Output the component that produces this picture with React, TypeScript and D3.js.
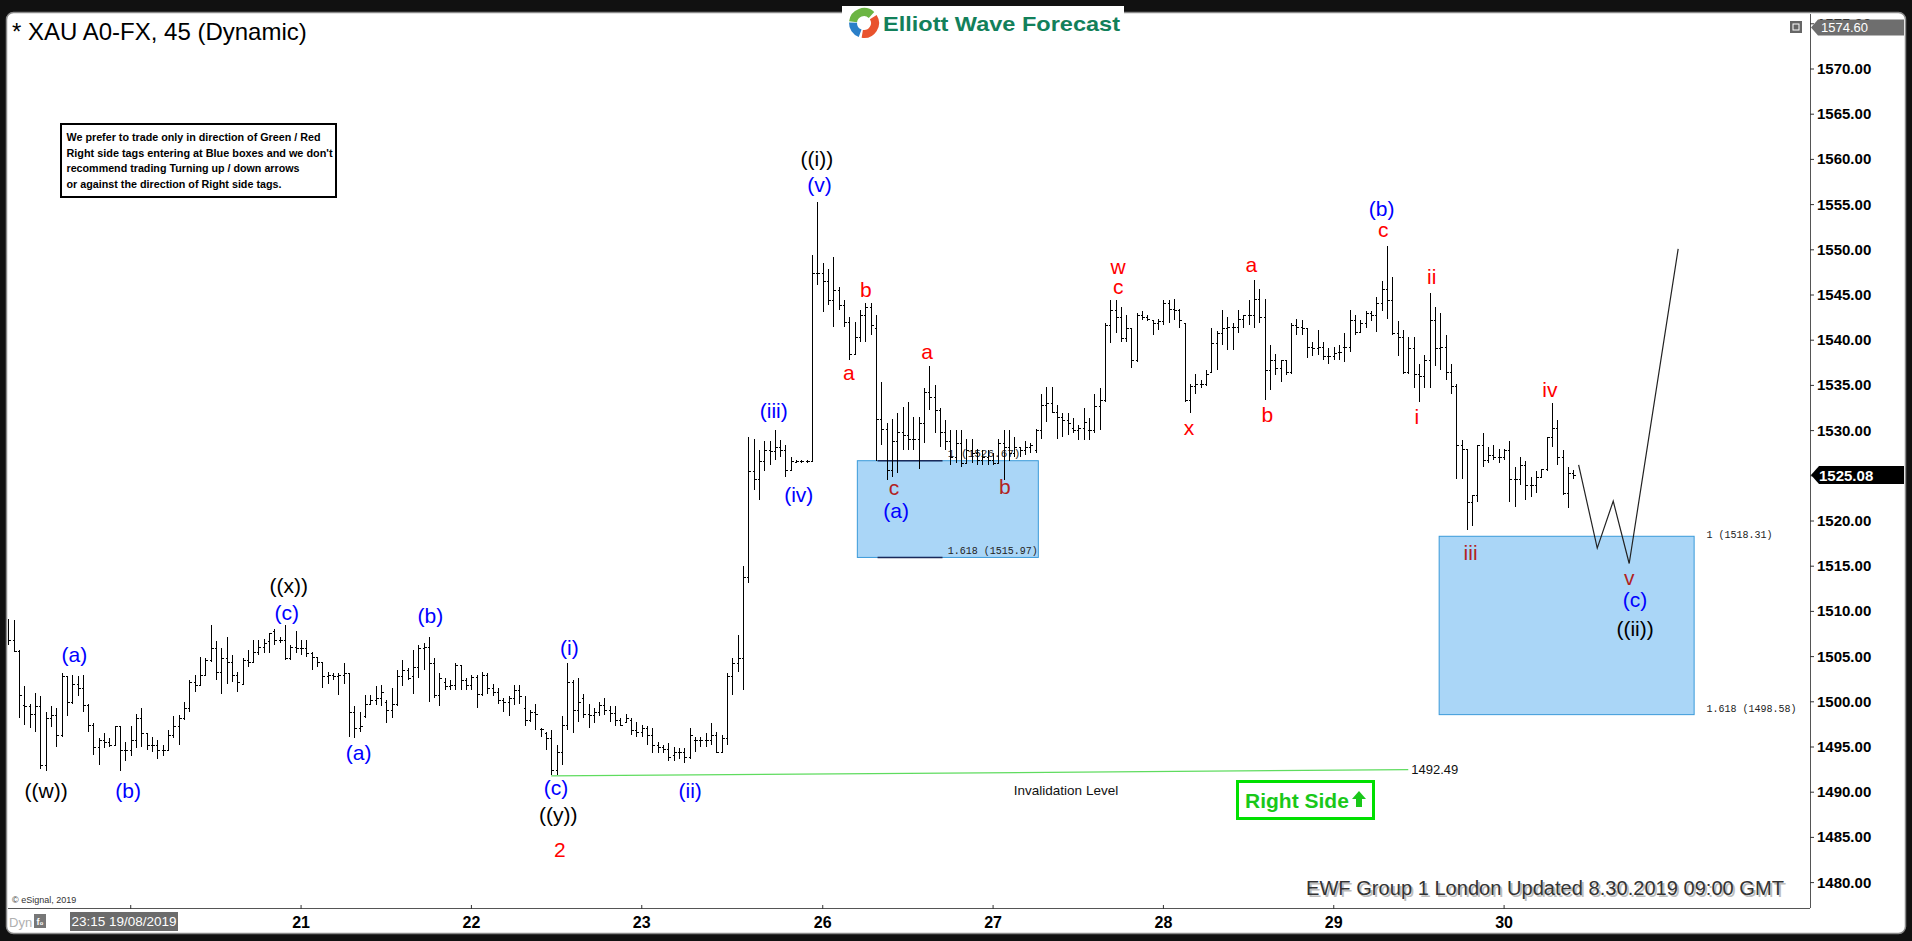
import React from "react";
import * as d3 from "d3";

const W = 1912;
const H = 941;

// OHLC bars [open, high, low, close], 45-minute bars grouped by trading day
const bars19 = [
  [1506.8,1509.2,1506.3,1506.8],[1506.8,1509.0,1505.5,1505.6],[1505.6,1505.7,1498.2,1500.8],[1499.6,1501.7,1497.4,1499.5],
  [1499.5,1499.8,1497.1,1498.7],[1498.7,1501.0,1496.7,1499.5],[1499.5,1500.6,1492.6,1493.0],[1493.0,1498.9,1492.4,1498.2],
  [1498.2,1499.5,1497.2,1498.5],[1498.5,1499.3,1495.0,1496.3],[1496.3,1503.2,1496.1,1502.8],[1502.8,1502.8,1498.4,1500.0],
  [1500.0,1503.0,1499.8,1502.0],[1502.0,1502.8,1500.6,1501.5],[1501.5,1503.0,1498.9,1499.6],[1499.6,1499.8,1496.7,1497.4],
  [1497.4,1497.6,1494.1,1495.0],[1495.0,1496.0,1493.0,1495.8],[1495.8,1496.5,1494.9,1495.6],[1495.6,1496.0,1495.0,1495.2],
  [1495.2,1497.3,1495.2,1497.3],[1497.3,1497.3,1492.3,1494.7],[1494.7,1495.6,1493.4,1494.7],
];
const bars20 = [
  [1494.7,1497.3,1494.0,1495.8],[1495.8,1498.7,1494.9,1498.2],[1498.2,1499.3,1495.0,1496.5],[1496.5,1496.5,1494.7,1495.2],
  [1495.2,1496.1,1494.5,1495.2],[1495.2,1495.8,1493.7,1494.7],[1494.7,1495.2,1494.0,1494.7],[1494.7,1496.9,1494.7,1496.3],
  [1496.3,1498.4,1496.0,1497.3],[1497.3,1498.5,1495.2,1498.2],[1498.2,1500.0,1498.0,1499.3],[1499.3,1502.4,1498.9,1502.2],
  [1502.2,1503.0,1501.1,1501.9],[1501.9,1505.0,1501.7,1503.0],[1503.0,1504.8,1502.8,1504.6],[1504.6,1508.5,1504.4,1505.9],
  [1505.9,1506.7,1502.4,1503.3],[1503.3,1505.9,1500.9,1504.8],[1504.8,1507.2,1502.0,1504.4],[1504.4,1505.2,1502.2,1503.0],
  [1503.0,1503.3,1501.1,1502.2],[1502.0,1504.8,1501.9,1504.6],[1504.6,1505.7,1503.9,1504.4],[1504.4,1506.8,1504.3,1505.5],
  [1505.5,1506.8,1505.2,1506.1],[1506.1,1507.0,1505.4,1506.5],[1506.7,1507.6,1505.4,1507.6],[1507.8,1508.0,1506.3,1506.8],
  [1506.8,1507.2,1506.5,1506.8],[1506.8,1508.5,1504.6,1504.8],[1504.8,1506.3,1504.6,1506.1],[1506.1,1507.8,1505.4,1506.0],
];
const bars21 = [
  [1506.0,1506.8,1505.2,1505.9],[1505.9,1506.8,1505.0,1505.4],[1505.4,1505.5,1503.5,1505.0],[1505.0,1505.0,1503.9,1504.4],
  [1504.4,1504.4,1501.5,1502.8],[1502.8,1503.3,1502.0,1503.0],[1503.0,1503.2,1502.4,1502.8],[1502.8,1503.2,1500.8,1503.0],
  [1503.0,1504.3,1502.0,1503.2],[1503.2,1503.2,1496.1,1498.9],[1498.9,1499.5,1496.0,1497.1],[1497.1,1498.9,1496.7,1497.3],
  [1498.4,1500.8,1498.2,1499.8],[1499.8,1500.8,1499.6,1500.2],[1500.2,1501.7,1499.6,1500.4],[1500.4,1501.9,1499.5,1501.1],
  [1500.0,1500.2,1497.6,1499.1],[1499.1,1501.5,1498.2,1499.8],[1499.8,1503.5,1499.5,1502.8],[1502.8,1504.6,1501.7,1503.5],
  [1503.5,1503.7,1502.4,1502.6],[1502.8,1505.7,1500.9,1503.9],[1503.9,1506.3,1502.6,1505.9],[1505.9,1506.5,1503.5,1506.1],
  [1506.1,1507.2,1500.0,1504.3],[1504.3,1504.8,1500.4,1500.8],[1500.8,1503.2,1499.5,1502.6],[1502.2,1502.6,1501.3,1501.7],
  [1501.7,1502.4,1501.3,1501.9],[1501.9,1504.3,1501.3,1504.1],[1504.1,1504.1,1501.3,1502.4],[1502.4,1502.6,1501.3,1501.9],
];
const bars22 = [
  [1501.9,1503.0,1501.3,1502.7],[1502.7,1503.0,1499.3,1500.9],[1500.9,1503.3,1500.6,1503.0],[1503.0,1503.2,1500.9,1501.5],
  [1501.5,1502.0,1500.6,1501.1],[1501.1,1501.5,1499.8,1500.2],[1500.2,1500.4,1498.9,1500.0],[1500.0,1500.6,1498.4,1500.4],
  [1500.4,1501.9,1499.6,1501.3],[1501.3,1501.9,1499.8,1500.6],[1499.3,1500.6,1497.3,1498.0],[1498.0,1499.1,1497.8,1498.9],
  [1498.9,1499.8,1496.9,1498.7],[1497.0,1497.1,1496.1,1497.0],[1496.5,1496.7,1494.7,1496.0],[1496.0,1496.9,1491.9,1492.5],
  [1492.5,1495.2,1491.9,1494.5],[1494.5,1498.4,1493.0,1497.4],[1497.4,1504.3,1496.9,1502.2],[1502.2,1502.4,1496.5,1499.1],
  [1499.1,1502.6,1497.8,1500.0],[1500.4,1500.9,1498.2,1498.7],[1498.7,1499.8,1497.1,1498.5],[1498.5,1499.3,1497.6,1498.9],
  [1498.9,1500.0,1498.4,1499.6],[1499.6,1500.4,1498.5,1499.1],[1499.1,1499.5,1497.8,1498.8],[1498.8,1499.5,1497.3,1498.0],
  [1498.0,1498.2,1497.3,1497.4],[1497.8,1498.7,1497.6,1498.2],[1498.0,1498.2,1496.3,1496.9],[1496.9,1497.8,1496.1,1496.7],
];
const bars23 = [
  [1496.7,1497.4,1496.1,1497.1],[1497.1,1497.3,1495.2,1496.3],[1496.3,1497.1,1494.3,1495.2],[1495.2,1495.6,1494.3,1495.0],
  [1495.0,1495.2,1494.3,1494.8],[1494.8,1495.4,1493.4,1493.9],[1494.1,1495.0,1493.4,1494.5],[1494.5,1494.9,1493.7,1494.4],
  [1494.4,1494.9,1493.2,1493.9],[1493.9,1497.1,1493.7,1496.3],[1495.8,1496.1,1494.5,1495.8],[1495.8,1496.1,1495.0,1495.8],
  [1495.8,1496.5,1495.0,1495.8],[1495.8,1497.6,1495.2,1496.3],[1496.3,1496.7,1494.3,1494.5],[1494.5,1496.3,1494.3,1496.0],
  [1496.0,1503.2,1495.2,1502.8],[1502.8,1504.8,1500.8,1504.3],[1504.3,1507.4,1503.3,1504.8],[1504.8,1515.0,1501.3,1513.8],
  [1513.8,1529.3,1513.1,1525.5],[1525.5,1529.1,1523.4,1524.7],[1524.7,1527.9,1522.3,1526.6],[1526.6,1528.8,1525.5,1527.9],
  [1527.9,1528.8,1526.2,1527.7],[1527.7,1530.1,1526.7,1528.2],[1528.2,1529.0,1527.1,1527.9],[1527.9,1528.4,1524.9,1525.6],
  [1525.6,1527.1,1525.5,1526.6],[1526.5,1526.7,1526.4,1526.6],[1526.6,1526.7,1526.4,1526.6],[1526.6,1526.7,1526.4,1526.6],
  [1526.6,1549.4,1526.6,1547.4],[1547.4,1555.3,1546.1,1547.4],
];
const bars26 = [
  [1547.4,1548.5,1543.1,1546.6],[1546.6,1547.9,1543.9,1544.4],[1544.4,1549.2,1541.5,1545.5],[1545.5,1545.9,1543.3,1543.9],
  [1543.9,1544.4,1541.5,1542.0],[1542.0,1542.6,1537.8,1538.5],[1538.5,1542.0,1538.5,1540.4],[1540.4,1543.3,1539.8,1542.8],
  [1542.8,1544.1,1539.8,1543.7],[1543.7,1544.1,1540.6,1541.7],[1541.3,1542.8,1526.6,1531.3],[1531.3,1535.4,1528.4,1530.2],
  [1530.2,1530.8,1524.5,1525.6],[1525.6,1531.3,1524.9,1528.8],[1528.8,1531.9,1525.3,1529.9],[1529.9,1532.6,1527.8,1529.5],
  [1529.5,1533.2,1527.8,1529.1],[1529.1,1531.5,1527.8,1529.1],[1529.1,1531.5,1525.8,1530.8],[1530.8,1534.7,1528.6,1534.3],
  [1534.3,1537.1,1532.3,1533.7],[1533.7,1535.0,1529.7,1532.3],[1532.3,1532.5,1528.2,1529.9],[1529.9,1531.2,1527.8,1528.8],
  [1528.8,1530.1,1526.2,1527.1],[1527.1,1530.1,1526.4,1528.6],[1528.6,1530.1,1526.0,1526.4],[1526.4,1529.1,1526.4,1527.8],
  [1527.8,1529.1,1526.4,1527.5],[1527.5,1528.0,1526.2,1526.7],[1526.7,1527.8,1526.2,1527.1],[1527.1,1527.8,1526.2,1526.7],
];
const bars27 = [
  [1526.7,1527.5,1526.2,1526.4],[1526.4,1529.1,1526.4,1528.6],[1528.6,1530.1,1524.5,1528.2],[1528.2,1530.1,1526.6,1527.5],
  [1527.5,1529.3,1527.1,1528.2],[1528.2,1528.2,1527.1,1527.8],[1527.8,1528.9,1527.3,1528.2],[1528.2,1528.6,1527.5,1528.4],
  [1527.8,1530.2,1527.5,1530.1],[1530.1,1534.1,1529.1,1532.8],[1532.8,1534.8,1531.0,1533.0],[1533.0,1534.8,1531.9,1532.1],
  [1532.1,1532.8,1529.1,1531.5],[1531.5,1531.9,1529.3,1531.2],[1531.2,1531.9,1529.5,1530.8],[1530.3,1531.4,1529.7,1530.1],
  [1530.1,1530.6,1529.0,1530.3],[1530.3,1532.5,1529.0,1531.0],[1530.1,1531.4,1529.0,1530.1],[1530.1,1534.1,1529.7,1532.7],
  [1532.7,1534.7,1530.1,1533.4],[1533.4,1541.9,1533.2,1541.7],[1541.7,1544.5,1539.7,1543.3],[1543.3,1544.5,1540.8,1542.6],
  [1542.6,1543.7,1539.8,1540.2],[1540.2,1542.8,1539.8,1541.3],[1541.3,1541.3,1536.9,1537.8],[1537.8,1543.0,1537.6,1542.8],
  [1542.8,1543.2,1542.2,1542.6],[1542.6,1542.8,1542.1,1542.4],[1542.2,1542.2,1540.6,1541.9],[1541.9,1542.4,1541.1,1542.1],
];
const bars28 = [
  [1542.1,1544.5,1541.7,1544.1],[1544.1,1544.5,1541.9,1543.5],[1543.5,1544.6,1542.2,1543.3],[1543.3,1543.5,1541.3,1542.2],
  [1541.9,1541.9,1533.2,1533.4],[1533.4,1535.2,1532.0,1534.9],[1534.9,1536.3,1534.1,1535.2],[1535.2,1535.6,1534.7,1535.2],
  [1535.2,1536.7,1534.9,1536.3],[1536.5,1541.3,1536.5,1539.7],[1539.7,1541.0,1536.7,1540.8],[1540.8,1543.3,1539.5,1541.3],
  [1541.3,1542.6,1538.9,1541.5],[1541.5,1541.9,1538.9,1541.5],[1541.5,1543.3,1540.8,1542.4],[1542.4,1542.8,1541.3,1542.8],
  [1542.8,1544.5,1541.7,1542.8],[1542.8,1546.7,1541.3,1544.6],[1544.6,1545.7,1541.9,1542.6],[1542.6,1544.6,1533.4,1536.7],
  [1536.7,1539.5,1534.5,1537.8],[1537.8,1538.5,1536.2,1536.9],[1536.9,1537.8,1535.4,1537.8],[1537.8,1537.8,1536.2,1536.5],
  [1536.5,1541.9,1536.3,1541.7],[1541.7,1542.4,1540.6,1541.5],[1541.5,1542.2,1540.6,1541.3],[1541.3,1541.3,1538.0,1539.3],
  [1539.3,1539.8,1538.2,1539.1],[1539.1,1541.1,1538.4,1539.3],[1539.3,1539.8,1537.8,1538.2],[1538.2,1539.1,1537.4,1538.2],
];
const bars29 = [
  [1538.2,1539.3,1537.8,1538.6],[1538.7,1539.5,1537.8,1538.7],[1539.3,1540.8,1537.6,1539.3],[1539.3,1543.3,1538.7,1542.2],
  [1542.2,1542.8,1540.6,1540.9],[1540.9,1542.2,1540.8,1541.9],[1541.9,1543.2,1541.3,1543.0],[1543.0,1543.2,1542.1,1542.8],
  [1542.8,1544.8,1540.9,1544.1],[1544.1,1546.5,1543.2,1545.7],[1545.7,1550.4,1542.4,1544.5],[1544.5,1547.0,1540.6,1540.8],
  [1540.8,1542.1,1538.2,1540.4],[1540.4,1541.1,1536.3,1536.5],[1536.5,1540.4,1536.3,1539.1],[1539.1,1540.4,1534.7,1536.3],
  [1536.3,1537.4,1533.2,1536.0],[1536.0,1538.4,1534.7,1537.8],[1537.8,1545.2,1534.7,1542.2],[1542.2,1543.7,1537.1,1539.1],
  [1539.1,1543.0,1536.7,1539.3],[1539.3,1540.6,1535.6,1536.5],[1536.5,1537.4,1534.1,1534.9],[1534.9,1535.1,1524.7,1528.4],
  [1528.4,1529.0,1524.7,1528.0],[1528.0,1528.0,1519.0,1522.1],[1522.1,1522.9,1519.4,1522.9],[1522.9,1528.4,1522.1,1528.4],
  [1528.4,1529.7,1526.0,1526.8],[1526.8,1528.2,1526.4,1527.3],[1527.3,1528.4,1526.8,1527.1],[1527.1,1528.0,1526.4,1527.1],
];
const bars30 = [
  [1527.1,1528.0,1526.8,1527.9],[1527.9,1528.8,1522.1,1524.7],[1524.7,1526.0,1521.6,1524.7],[1524.7,1527.1,1524.0,1526.2],
  [1526.2,1526.6,1522.3,1524.0],[1524.0,1524.9,1522.7,1524.0],[1524.0,1525.5,1523.1,1524.9],[1524.9,1525.8,1524.9,1525.7],
  [1525.7,1529.3,1525.5,1529.3],[1529.3,1533.0,1528.2,1530.3],[1530.3,1531.2,1526.2,1527.1],[1527.1,1527.9,1522.9,1523.1],
  [1523.1,1526.0,1521.4,1525.3],[1525.3,1525.6,1524.7,1525.08],
];

// x-axis day ticks: label and bar index at which the day starts ("" = label hidden under the cursor-time box)
const dayLabels = ["", "21", "22", "23", "26", "27", "28", "29", "30"];
const dayIndex = [23, 55, 87, 119, 153, 185, 217, 249, 281];

// price axis ticks
const priceTicks = [1480, 1485, 1490, 1495, 1500, 1505, 1510, 1515, 1520, 1525, 1530, 1535, 1540, 1545, 1550, 1555, 1560, 1565, 1570, 1575];
const lastPrice = 1525.08;
const topPrice = 1574.6;

// Elliott wave labels: text, colour key, bar index, price
const waveText = ["((w))","((x))","((y))","((i))","((ii))",
  "(a)","(b)","(c)","(a)","(b)","(c)","(i)","(ii)","(iii)","(iv)","(v)","(a)","(b)","(c)",
  "2","b","a","a","c","b","w","c","x","a","b","c","ii","i","iii","iv","v"];
const waveColor = ["k","k","k","k","k",
  "b","b","b","b","b","b","b","b","b","b","b","b","b","b",
  "r","r","r","r","m","m","r","r","r","r","r","r","r","r","m","r","m"];
const waveIndex = [7.1,52.7,103.3,151.9,305.6,
  12.4,22.5,52.3,65.8,79.3,102.9,105.4,128.1,143.8,148.5,152.4,166.8,258.0,305.6,
  103.6,161.1,157.9,172.6,166.4,187.2,208.5,208.5,221.8,233.5,236.5,258.3,267.4,264.6,274.7,289.6,304.5];
const wavePrice = [1490.2,1512.9,1487.5,1560.1,1508.1,
  1505.2,1490.2,1509.9,1494.4,1509.5,1490.5,1506.0,1490.2,1532.2,1522.9,1557.2,1521.2,1554.6,1511.3,
  1483.7,1545.6,1536.4,1538.8,1523.7,1523.8,1548.1,1545.9,1530.3,1548.4,1531.8,1552.2,1547.0,1531.6,1516.5,1534.5,1513.8];

// blue target boxes: [startIndex, endIndex, top price, bottom price]
const boxStart = [159.5, 268.8];
const boxEnd = [193.5, 316.7];
const boxTop = [1526.67, 1518.31];
const boxBottom = [1515.97, 1498.58];

// projected path
const projIndex = [295, 298.5, 301.5, 304.5, 313.7];
const projPrice = [1526.2, 1517.0, 1522.2, 1515.3, 1550.1];

// invalidation line
const invIndex = [102, 263];
const invPrice = [1491.8, 1492.49];

const COLORS: Record<string, string> = { k: "#000000", b: "#0000ff", r: "#ff0000", m: "#b22222" };
const FONT = "Liberation Sans, Arial, Helvetica, sans-serif";

export default function App() {
  const bars = [...bars19, ...bars20, ...bars21, ...bars22, ...bars23, ...bars26, ...bars27, ...bars28, ...bars29, ...bars30];
  const x = d3.scaleLinear().domain([0, bars.length - 1]).range([8.3, 1573.3]);
  const y = d3.scaleLinear().domain([1480, 1570]).range([882.6, 69]);
  const plotR = 1810;
  const plotB = 908;

  const projLine = d3.line<number>().x((_, i) => x(projIndex[i])).y((d) => y(d))(projPrice) || "";

  const arc = d3.arc();
  const logoArcs = [
    { s: -1.45, e: 0.75, c: "#6cb543" },
    { s: 1.0, e: 3.3, c: "#e9532e" },
    { s: 3.5, e: 4.75, c: "#2b7fc8" },
  ];

  const noteLines = [
    "We prefer to trade only in direction of Green / Red",
    "Right side tags entering at Blue boxes and we don't",
    "recommend trading Turning up / down arrows",
    "or against the direction of Right side tags.",
  ];
  const noteWidths = [254, 266, 233, 215];

  return (
    <svg width={W} height={H} style={{ display: "block", position: "absolute", left: 0, top: 0 }} fontFamily={FONT}>
      <defs>
        <clipPath id="plot">
          <rect x={8} y={14} width={plotR - 8} height={plotB - 14} />
        </clipPath>
        <clipPath id="axisclip">
          <rect x={plotR} y={14} width={94} height={plotB - 14} />
        </clipPath>
      </defs>
      <rect x={0} y={0} width={W} height={H} fill="#111" />
      <rect x={6.5} y={12.5} width={1899} height={921} rx={7} fill="#fff" stroke="#8a8a8a" strokeWidth={1.5} />

      {/* plot frame */}
      <line x1={plotR + 0.5} x2={plotR + 0.5} y1={14} y2={plotB} stroke="#555" />
      <line x1={8} x2={plotR} y1={plotB + 0.5} y2={plotB + 0.5} stroke="#555" />

      <g clipPath="url(#plot)">
        {/* blue boxes */}
        {boxStart.map((s, i) => (
          <rect key={"bx" + i} x={x(s)} y={y(boxTop[i])} width={x(boxEnd[i]) - x(s)} height={y(boxBottom[i]) - y(boxTop[i])}
            fill="#aad6f7" stroke="#3a9ad9" strokeWidth={1} />
        ))}
        {/* fib lines on first box */}
        <line x1={x(163.3)} x2={x(175.5)} y1={y(boxTop[0])} y2={y(boxTop[0])} stroke="#1a2a5a" strokeWidth={1.5} />
        <line x1={x(163.3)} x2={x(175.5)} y1={y(boxBottom[0])} y2={y(boxBottom[0])} stroke="#1a2a5a" strokeWidth={1.5} />
        <text x={x(176.5)} y={y(boxTop[0]) - 4} fontSize={11} fontFamily="Liberation Mono, monospace" fill="#222">1 (1526.67)</text>
        <text x={x(176.5)} y={y(boxBottom[0]) - 3} fontSize={10} fontFamily="Liberation Mono, monospace" fill="#222">1.618 (1515.97)</text>

        {/* invalidation line */}
        <line x1={x(invIndex[0])} x2={x(invIndex[1])} y1={y(invPrice[0])} y2={y(invPrice[1])} stroke="#5fdc5f" strokeWidth={1.3} />
        <text x={x(invIndex[1]) + 3} y={y(invPrice[1]) + 4} fontSize={13} fill="#111">{invPrice[1].toFixed(2)}</text>
        <text x={1066} y={795} fontSize={13.5} fill="#111" textAnchor="middle">Invalidation Level</text>

        {/* OHLC bars */}
        <g stroke="#000" strokeWidth={1} shapeRendering="crispEdges">
          {bars.map((b, i) => {
            const cx = Math.round(x(i)) + 0.5;
            return (
              <g key={i}>
                <line x1={cx} x2={cx} y1={y(b[1])} y2={y(b[2])} />
                <line x1={cx - 2} x2={cx} y1={Math.round(y(b[0])) + 0.5} y2={Math.round(y(b[0])) + 0.5} />
                <line x1={cx} x2={cx + 2} y1={Math.round(y(b[3])) + 0.5} y2={Math.round(y(b[3])) + 0.5} />
              </g>
            );
          })}
        </g>

        {/* projection */}
        <path d={projLine} fill="none" stroke="#222" strokeWidth={1.2} />

        {/* wave labels */}
        {waveText.map((t, i) => (
          <text key={"w" + i} x={x(waveIndex[i])} y={y(wavePrice[i])} fontSize={21} textAnchor="middle" dominantBaseline="central"
            fill={COLORS[waveColor[i]]}>{t}</text>
        ))}

        {/* right side tag */}
        <rect x={1237.5} y={781.5} width={136} height={37} fill="#fff" stroke="#00e000" strokeWidth={3} />
        <text x={1245} y={808} fontSize={21} fontWeight="bold" fill="#19c819">Right Side</text>
        <path d="M1359,791 L1366,799 L1362,799 L1362,807 L1356,807 L1356,799 L1352,799 Z" fill="#19c819" />

        {/* notes */}
        <rect x={61} y={124} width={275} height={73} fill="#fff" stroke="#000" strokeWidth={2} />
        {noteLines.map((t, i) => (
          <text key={"n" + i} x={66.5} y={141 + i * 15.5} fontSize={10.5} fontWeight="bold" fill="#000"
            textLength={noteWidths[i]} lengthAdjust="spacingAndGlyphs">{t}</text>
        ))}

        {/* EWF footer */}
        <text x={1308} y={897} fontSize={20} fill="#bdbdbd" textLength={478} lengthAdjust="spacingAndGlyphs">EWF Group 1 London Updated 8.30.2019 09:00 GMT</text>
        <text x={1306} y={895} fontSize={20} fill="#333" textLength={478} lengthAdjust="spacingAndGlyphs">EWF Group 1 London Updated 8.30.2019 09:00 GMT</text>
        <text x={12} y={903} fontSize={9} fill="#333">© eSignal, 2019</text>
      </g>

      {/* box labels right */}
      <text x={x(319)} y={y(boxTop[1]) + 2} fontSize={10} fontFamily="Liberation Mono, monospace" fill="#222">1 (1518.31)</text>
      <text x={x(319)} y={y(boxBottom[1]) - 3} fontSize={10} fontFamily="Liberation Mono, monospace" fill="#222">1.618 (1498.58)</text>

      {/* title */}
      <text x={12} y={40} fontSize={24} fill="#000">* XAU A0-FX, 45 (Dynamic)</text>

      {/* logo */}
      <rect x={842} y={6} width={282} height={34} fill="#fff" />
      <g transform="translate(864,23)">
        {logoArcs.map((a, i) => (
          <path key={"la" + i} d={arc({ innerRadius: 7, outerRadius: 15, startAngle: a.s, endAngle: a.e }) || ""} fill={a.c} />
        ))}
      </g>
      <text x={883} y={31} fontSize={21} fontWeight="bold" fill="#12805a" textLength={237} lengthAdjust="spacingAndGlyphs">Elliott Wave Forecast</text>

      {/* restore icon */}
      <rect x={1790} y={21} width={12} height={12} fill="#666" />
      <rect x={1793} y={24} width={6} height={6} fill="none" stroke="#fff" strokeWidth={1} />

      {/* price axis */}
      <g clipPath="url(#axisclip)">
        {priceTicks.map((p) => (
          <g key={"p" + p}>
            <line x1={plotR} x2={plotR + 4} y1={y(p)} y2={y(p)} stroke="#333" />
            <text x={1817} y={y(p) + 5} fontSize={15} fontWeight="bold" fill="#000">{p.toFixed(2)}</text>
          </g>
        ))}
      </g>
      <path d={`M${plotR + 1},${y(topPrice)} L${plotR + 8},${y(topPrice) - 8} L1904,${y(topPrice) - 8} L1904,${y(topPrice) + 8} L${plotR + 8},${y(topPrice) + 8} Z`} fill="#6e6e6e" />
      <text x={1821} y={y(topPrice) + 5} fontSize={13} fill="#fff">{topPrice.toFixed(2)}</text>
      <path d={`M${plotR + 1},${y(lastPrice)} L${plotR + 9},${y(lastPrice) - 9} L1904,${y(lastPrice) - 9} L1904,${y(lastPrice) + 9} L${plotR + 9},${y(lastPrice) + 9} Z`} fill="#000" />
      <text x={1819} y={y(lastPrice) + 5.5} fontSize={15} fontWeight="bold" fill="#fff">{lastPrice.toFixed(2)}</text>

      {/* time axis */}
      {dayIndex.map((d, i) => (
        <g key={"d" + i}>
          <line x1={x(d)} x2={x(d)} y1={plotB - 3} y2={plotB + 1} stroke="#333" />
          {dayLabels[i] ? (
            <text x={x(d)} y={928} fontSize={16} fontWeight="bold" textAnchor="middle" fill="#000">{dayLabels[i]}</text>
          ) : null}
        </g>
      ))}
      <rect x={70} y={912} width={108} height={19} fill="#6b6b6b" />
      <text x={124} y={926} fontSize={13.5} textAnchor="middle" fill="#fff">23:15 19/08/2019</text>
      <text x={9} y={927} fontSize={13} fill="#b0b0b0">Dyn</text>
      <rect x={34} y={914} width={12} height={14} fill="#777" />
      <text x={40} y={925} fontSize={9} textAnchor="middle" fill="#fff" fontWeight="bold">f₀</text>
    </svg>
  );
}
